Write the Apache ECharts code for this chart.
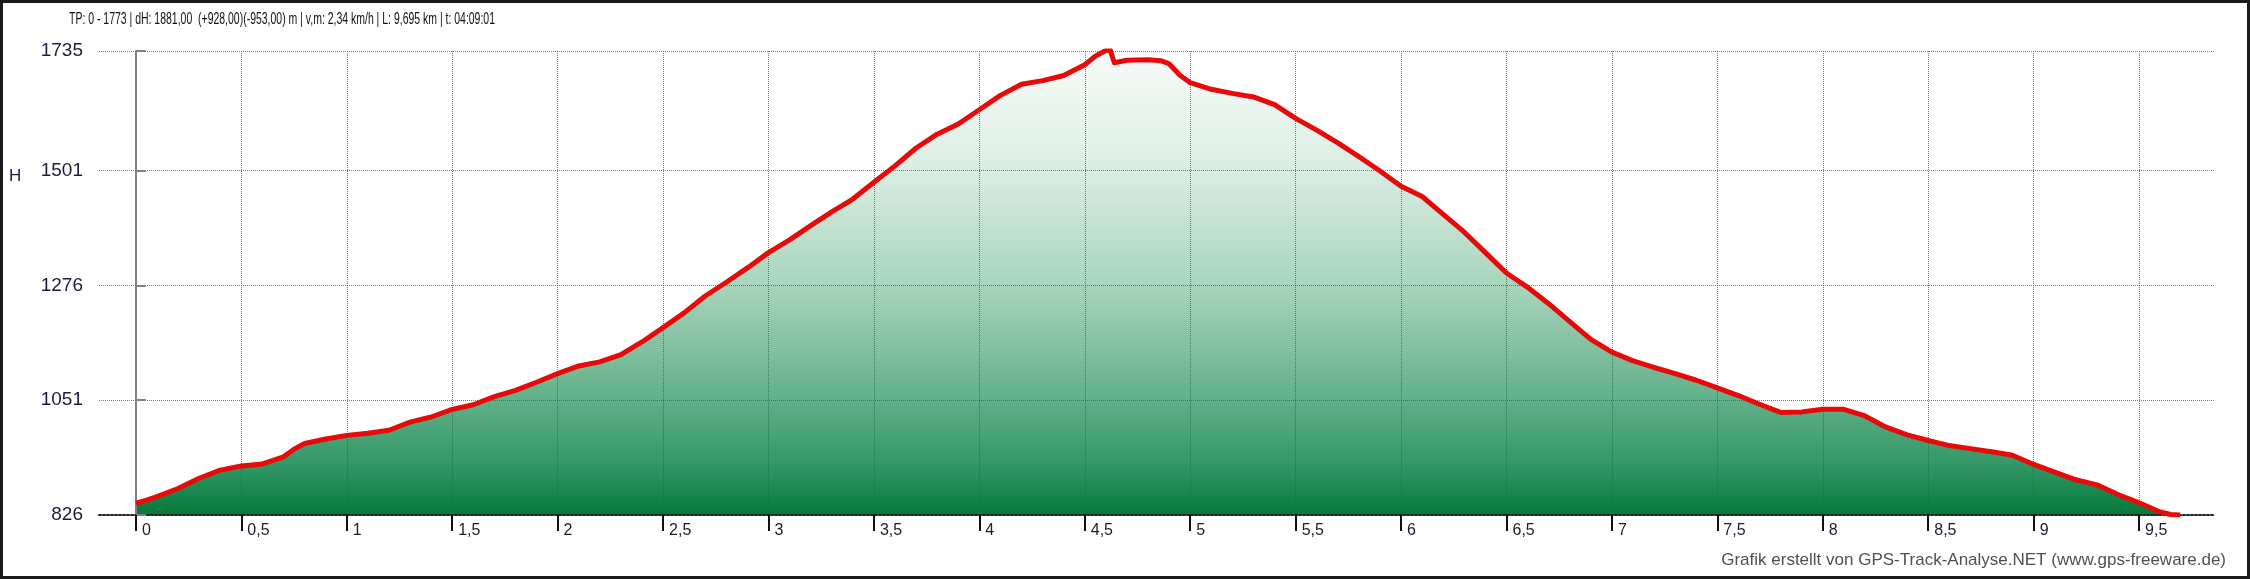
<!DOCTYPE html>
<html>
<head>
<meta charset="utf-8">
<script src="https://cdn.jsdelivr.net/npm/echarts@6/dist/echarts.min.js"></script>
<style>
  html, body { margin: 0; padding: 0; background: #fff; }
  #main { width: 2250px; height: 579px; }
</style>
</head>
<body>
<div id="main"></div>
<script>
// distance along the track (km)
const distKm = [0, 0.05, 0.1, 0.2, 0.3, 0.4, 0.5, 0.6, 0.7, 0.75, 0.8, 0.9, 1.0, 1.1, 1.2, 1.3, 1.4, 1.5, 1.6, 1.7,
  1.8, 1.9, 2.0, 2.1, 2.2, 2.3, 2.4, 2.5, 2.6, 2.7, 2.8, 2.9, 3.0, 3.1, 3.2, 3.3, 3.4, 3.5, 3.6, 3.7,
  3.8, 3.9, 4.0, 4.1, 4.2, 4.3, 4.4, 4.5, 4.55, 4.6, 4.62, 4.64, 4.7, 4.8, 4.86, 4.9, 4.95, 5.0, 5.1, 5.2,
  5.3, 5.4, 5.5, 5.6, 5.7, 5.8, 5.9, 6.0, 6.1, 6.2, 6.3, 6.4, 6.5, 6.6, 6.7, 6.8, 6.9, 7.0, 7.1, 7.2,
  7.3, 7.4, 7.5, 7.6, 7.7, 7.8, 7.9, 8.0, 8.1, 8.2, 8.3, 8.4, 8.5, 8.6, 8.7, 8.8, 8.9, 9.0, 9.1, 9.2,
  9.3, 9.4, 9.5, 9.6, 9.65, 9.695];
// elevation (m)
const heightM = [849, 855, 862, 878, 898, 914, 922, 926, 940, 955, 966, 975, 982, 986, 992, 1008, 1018, 1033, 1042, 1058,
  1070, 1086, 1103, 1118, 1126, 1140, 1165, 1193, 1222, 1255, 1282, 1310, 1340, 1365, 1393, 1420, 1445, 1478, 1510, 1545,
  1572, 1592, 1620, 1648, 1670, 1677, 1687, 1708, 1725, 1736, 1738, 1712, 1717, 1718, 1716, 1710, 1688, 1673, 1660, 1652,
  1645, 1630, 1603, 1580, 1555, 1528, 1500, 1470, 1450, 1415, 1380, 1340, 1300, 1272, 1240, 1205, 1170, 1145, 1128, 1115,
  1103, 1090, 1075, 1060, 1043, 1027, 1028, 1033, 1033, 1020, 998, 983, 972, 962, 956, 950, 943, 925, 910, 895,
  885, 866, 850, 832, 827, 826];
const yTicks = [826, 1051, 1276, 1501, 1735];
const xTicks = [0, 0.5, 1, 1.5, 2, 2.5, 3, 3.5, 4, 4.5, 5, 5.5, 6, 6.5, 7, 7.5, 8, 8.5, 9, 9.5];
const titleText = "TP: 0 - 1773 | dH: 1881,00  (+928,00)(-953,00) m | v,m: 2,34 km/h | L: 9,695 km | t: 04:09:01";
const creditText = "Grafik erstellt von GPS-Track-Analyse.NET (www.gps-freeware.de)";

const points = distKm.map((d, i) => [d, heightM[i]]);

// squeeze the header text to the narrow width of the original
const titleFont = "17px 'Liberation Sans'";
const ctx = document.createElement("canvas").getContext("2d");
ctx.font = titleFont;
const titleScale = 426 / ctx.measureText(titleText).width;

const gridLine = { show: true, lineStyle: { color: "rgba(80,80,80,0.75)", type: "dotted", width: 1 } };

const chart = echarts.init(document.getElementById("main"));
chart.setOption({
  animation: false,
  backgroundColor: "#fff",
  textStyle: { fontFamily: "Liberation Sans" },
  grid: { left: 99, top: 51, width: 2116, height: 464 },
  xAxis: {
    type: "value",
    min: -0.175,
    max: 9.86,
    z: 2,
    axisLine: { show: true, onZero: false, lineStyle: { color: "#222", type: "dotted", width: 2 } },
    axisTick: { show: true, customValues: xTicks, length: 16, lineStyle: { color: "#111", width: 2 } },
    axisLabel: {
      customValues: xTicks,
      align: "left",
      margin: 8,
      padding: [0, 0, 0, 6],
      fontSize: 16,
      color: "#1c1c30",
      formatter: v => String(v).replace(".", ",")
    },
    splitLine: gridLine
  },
  yAxis: {
    type: "value",
    min: 826,
    max: 1735,
    z: 2,
    axisLine: { show: true, lineStyle: { color: "#808080", width: 2 } },
    axisTick: { show: true, inside: true, customValues: yTicks, length: 10, lineStyle: { color: "#808080", width: 2 } },
    axisLabel: { customValues: yTicks, margin: 16, fontSize: 19, color: "#1c1c3c", formatter: v => String(v) },
    splitLine: gridLine
  },
  series: [
    {
      type: "line",
      data: points,
      z: 1,
      showSymbol: false,
      silent: true,
      lineStyle: { width: 0 },
      areaStyle: {
        opacity: 1,
        color: {
          type: "linear", x: 0, y: 51, x2: 0, y2: 515, global: true,
          colorStops: [
            { offset: 0, color: "#f8fbf9" },
            { offset: 0.25, color: "#dbeee4" },
            { offset: 0.5, color: "#a9d5bd" },
            { offset: 0.75, color: "#62b08a" },
            { offset: 0.9, color: "#2f9563" },
            { offset: 1, color: "#057a3a" }
          ]
        }
      }
    },
    {
      type: "line",
      data: points,
      z: 3,
      showSymbol: false,
      silent: true,
      lineStyle: { color: "#e60a0a", width: 5, join: "round" }
    }
  ],
  graphic: [
    {
      type: "text", left: 69, top: 11, scaleX: titleScale,
      style: { text: titleText, font: titleFont, fill: "#111" }
    },
    {
      type: "text", left: 9, top: 168,
      style: { text: "H", font: "17px 'Liberation Sans'", fill: "#1c1c40" }
    },
    {
      type: "text", right: 24, top: 552,
      style: { text: creditText, font: "17px 'Liberation Sans'", fill: "#505050" }
    },
    {
      type: "rect", silent: true,
      shape: { x: 1.5, y: 1.5, width: 2247, height: 576 },
      style: { fill: null, stroke: "#1a1a1a", lineWidth: 3 }
    }
  ]
});
</script>
</body>
</html>
